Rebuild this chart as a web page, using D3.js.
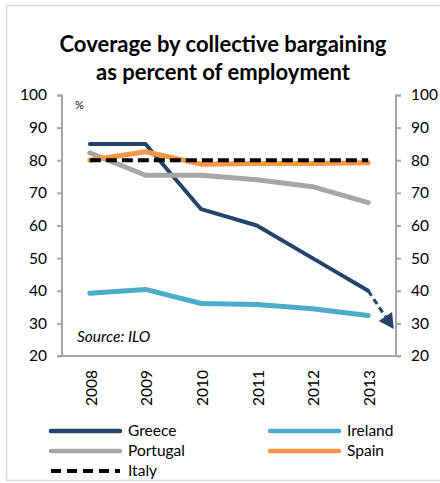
<!DOCTYPE html>
<html><head><meta charset="utf-8">
<script src="https://cdn.jsdelivr.net/npm/d3@7"></script>
<style>
html,body{margin:0;padding:0;background:#fff;}
svg{display:block;font-family:Lato,"Open Sans",sans-serif;}
</style></head>
<body>
<svg id="chart" width="440" height="483"></svg>
<script>
const years = [2008, 2009, 2010, 2011, 2012, 2013];
const greece = [85, 85, 65, 60, 50, 40];
const ireland = [39.2, 40.4, 36.1, 35.8, 34.5, 32.4];
const portugal = [82.3, 75.4, 75.4, 74.0, 71.9, 67.0];
const spain = [80.0, 82.6, 78.8, 79.0, 79.0, 79.2];
const italy = [80, 80, 80, 80, 80, 80];
const greeceArrowYears = [2013, 2013.46];
const greeceArrowValues = [40, 28.3];
const yTicks = [20, 30, 40, 50, 60, 70, 80, 90, 100];
const titleLines = ["Coverage by collective bargaining", "as percent of employment"];
const seriesNames = ["Greece", "Ireland", "Portugal", "Spain", "Italy"];
const seriesColors = ["#264469", "#4BACC6", "#A6A6A6", "#F79646", "#000000"];

const svg = d3.select("#chart");
const x = d3.scaleLinear().domain([2007.5, 2013.5]).range([62, 396]);
const y = d3.scaleLinear().domain([20, 100]).range([356, 95]);

// outer border
svg.append("rect").attr("x", 6.5).attr("y", 5.5).attr("width", 440).attr("height", 475)
  .attr("fill", "none").attr("stroke", "#D9D9D9").attr("stroke-width", 1.5);

// title
svg.append("g").selectAll("text").data(titleLines).join("text")
  .attr("x", 223).attr("y", (d, i) => 52 + i * 28)
  .attr("text-anchor", "middle").attr("font-weight", "bold").attr("font-size", 22)
  .attr("fill", "#000").text(d => d);

const axisColor = "#A6A6A6";
// left axis
const leftAxis = svg.append("g").attr("transform", "translate(62,0)")
  .call(d3.axisLeft(y).tickValues(yTicks).tickSize(5).tickPadding(10));
// right axis
const rightAxis = svg.append("g").attr("transform", "translate(396,0)")
  .call(d3.axisRight(y).tickValues(yTicks).tickSize(5).tickPadding(10));
[leftAxis, rightAxis].forEach(g => {
  g.select(".domain").attr("stroke", axisColor).attr("stroke-width", 2)
    .attr("d", g === leftAxis ? "M-5,95.5H0V356" : "M5,95.5H0V356");
  g.selectAll(".tick line").attr("stroke", axisColor).attr("stroke-width", 2);
  g.selectAll(".tick text").attr("font-size", 15.5).attr("fill", "#000")
    .attr("font-family", "Lato,'Open Sans',sans-serif");
});
// bottom axis
const bottomAxis = svg.append("g").attr("transform", "translate(0,356)")
  .call(d3.axisBottom(x).tickValues(years).tickFormat(d3.format("d")).tickSize(0).tickPadding(0));
bottomAxis.select(".domain").attr("stroke", axisColor).attr("stroke-width", 2).attr("d", "M57,0H401");
bottomAxis.selectAll(".tick text")
  .attr("font-size", 15.5).attr("fill", "#000").attr("font-family", "Lato,'Open Sans',sans-serif")
  .attr("text-anchor", "end").attr("dy", "0.35em")
  .attr("transform", "translate(1,14) rotate(-90)").attr("x", 0).attr("y", 0);

// % label
svg.append("text").attr("x", 75).attr("y", 109).attr("font-size", 11).text("%");
// source
svg.append("text").attr("x", 77).attr("y", 342).attr("font-size", 15.5)
  .attr("font-style", "italic").text("Source: ILO");

const line = d3.line().x((d, i) => x(years[i])).y(d => y(d));
const data = [greece, ireland, portugal, spain, italy];
const widths = [4, 5, 5, 5, 4];
data.forEach((vals, k) => {
  const p = svg.append("path").datum(vals).attr("d", line)
    .attr("fill", "none").attr("stroke", seriesColors[k]).attr("stroke-width", widths[k])
    .attr("stroke-linejoin", "round").attr("stroke-linecap", k === 4 ? "butt" : "round");
  if (k === 4) p.attr("stroke-dasharray", "11,5");
});

// Greece projection arrow
const ax0 = x(greeceArrowYears[0]), ay0 = y(greeceArrowValues[0]);
const ax1 = x(greeceArrowYears[1]), ay1 = y(greeceArrowValues[1]);
const ang = Math.atan2(ay1 - ay0, ax1 - ax0);
const headLen = 15, headW = 8;
const bx = ax1 - headLen * Math.cos(ang), by = ay1 - headLen * Math.sin(ang);
svg.append("line").attr("x1", ax0).attr("y1", ay0).attr("x2", bx).attr("y2", by)
  .attr("stroke", seriesColors[0]).attr("stroke-width", 3).attr("stroke-dasharray", "6,4");
const px = -Math.sin(ang), py = Math.cos(ang);
svg.append("path")
  .attr("d", `M${ax1},${ay1}L${bx + px * headW},${by + py * headW}L${bx - px * headW},${by - py * headW}Z`)
  .attr("fill", seriesColors[0]);

// legend
const legendPos = [[51, 431], [270, 431], [51, 451], [270, 451], [51, 471]];
seriesNames.forEach((name, k) => {
  const [lx, ly] = legendPos[k];
  const l = svg.append("line").attr("x1", lx).attr("x2", lx + 69).attr("y1", ly).attr("y2", ly)
    .attr("stroke", seriesColors[k]).attr("stroke-width", 4.5)
    .attr("stroke-linecap", "round");
  if (k === 4) l.attr("stroke-dasharray", "10,6").attr("stroke-linecap", "butt").attr("stroke-width", 4);
  svg.append("text").attr("x", lx + 77).attr("y", ly).attr("dy", "0.35em")
    .attr("font-size", 15.5).text(name);
});
</script>
</body></html>
